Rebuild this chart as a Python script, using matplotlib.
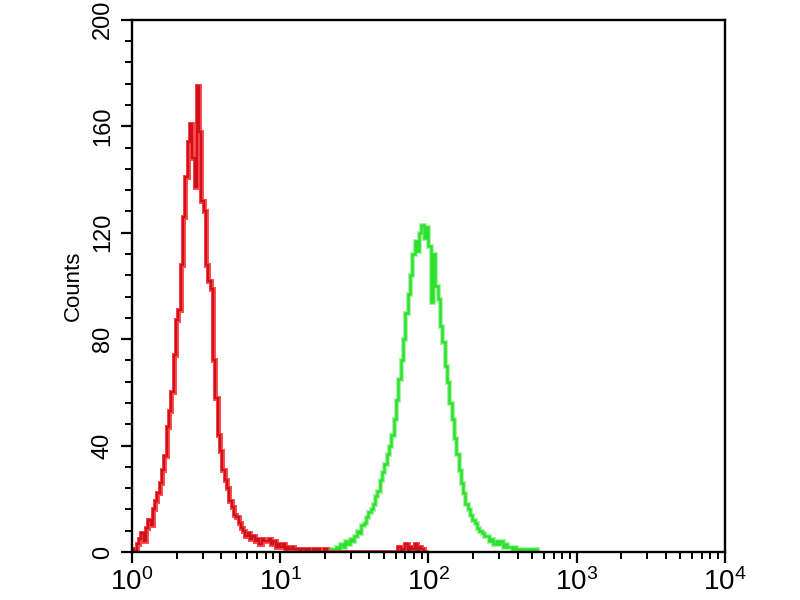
import numpy as np
import matplotlib
matplotlib.use("Agg")
import matplotlib.pyplot as plt
from matplotlib.ticker import LogLocator, MultipleLocator, FixedLocator

plt.rcParams['font.family'] = ['Liberation Sans', 'DejaVu Sans']
plt.rcParams['mathtext.fontset'] = 'custom'
plt.rcParams['mathtext.rm'] = 'Liberation Sans'
plt.rcParams['mathtext.it'] = 'Liberation Sans'

# histogram channels: 64 per decade, channel k spans 10**(k/64) .. 10**((k+1)/64)
ch_per_decade = 64

# control (red), channels starting at 0
red_start = 0
red_counts = [1, 0, 3, 5, 7, 4, 9, 12, 10, 16, 19, 22, 26, 31, 36, 47,
              53, 60, 74, 87, 91, 108, 126, 141, 154, 161, 148, 137, 175, 158, 132, 128,
              108, 102, 99, 72, 58, 44, 38, 31, 27, 24, 19, 17, 14, 13, 11, 9,
              8, 6, 7, 5, 6, 4, 5, 3, 5, 4, 4, 5, 3, 4, 2, 3,
              2, 3, 1, 2, 1, 2, 1, 1, 0, 1, 1, 0, 1, 0, 1, 0,
              1, 0, 0, 1, 0, 0, 0, 0, 0, 0, 0, 0, 0, 0, 0, 0,
              0, 0, 0, 0, 0, 0, 0, 0, 0, 0, 0, 0, 0, 0, 0, 0,
              0, 0, 0, 2, 0, 1, 3, 0, 2, 1, 3, 0, 2, 1, 0, 0]

# sample (green), channels starting at 84
green_start = 84
green_counts = [0, 1, 0, 1, 2, 1, 3, 2, 4, 3, 5, 4, 6, 8, 7, 10,
                11, 13, 15, 16, 18, 21, 23, 27, 30, 33, 37, 40, 44, 50, 57, 65,
                72, 80, 90, 97, 104, 112, 117, 113, 120, 123, 118, 122, 115, 94, 112, 100,
                95, 85, 79, 70, 64, 56, 50, 43, 37, 31, 26, 22, 18, 16, 14, 12,
                11, 9, 8, 7, 6, 6, 4, 5, 3, 4, 3, 4, 2, 3, 2, 2,
                1, 2, 1, 1, 0, 1, 1, 0, 1, 0, 1, 0]

y_ticks = [0, 40, 80, 120, 160, 200]
x_ticks = [1, 10, 100, 1000, 10000]
x_labels = ['$10^0$', '$10^1$', '$10^2$', '$10^3$', '$10^4$']


def edges_for(start, n):
    k = np.arange(start, start + n + 1)
    return 10 ** (k / ch_per_decade)


fig = plt.figure(figsize=(8, 6), dpi=100)
ax = fig.add_axes([0.165, 0.08, 0.741, 0.887])

red_edges = edges_for(red_start, len(red_counts))
green_edges = edges_for(green_start, len(green_counts))

ax.stairs(green_counts, green_edges, color='#a8f5a8', linewidth=3.6, baseline=None)
ax.stairs(green_counts, green_edges, color='#2ee02e', linewidth=1.8, baseline=None)
ax.stairs(red_counts, red_edges, color='#ff5050', linewidth=3.6, baseline=None)
ax.stairs(red_counts, red_edges, color='#d0101a', linewidth=1.7, baseline=None)

ax.set_xscale('log')
ax.set_xlim(1, 10000)
ax.set_ylim(0, 200)

ax.xaxis.set_major_locator(FixedLocator(x_ticks))
ax.set_xticklabels(x_labels, fontsize=20)
ax.xaxis.set_minor_locator(LogLocator(base=10, subs=np.arange(2, 10), numticks=20))
ax.xaxis.set_minor_formatter(plt.NullFormatter())

ax.yaxis.set_major_locator(FixedLocator(y_ticks))
ax.set_yticklabels([str(v) for v in y_ticks], fontsize=17, rotation=90, va='center')
ax.yaxis.set_minor_locator(MultipleLocator(8))

ax.tick_params(which='major', direction='out', length=8, width=1.6, color='black', pad=5)
ax.tick_params(which='minor', direction='out', length=5, width=1.4, color='black')
ax.tick_params(axis='x', which='major', pad=4)

for s in ax.spines.values():
    s.set_linewidth(1.7)

ax.set_ylabel('Counts', fontsize=16, labelpad=6)

fig.savefig('out.png', dpi=100)
